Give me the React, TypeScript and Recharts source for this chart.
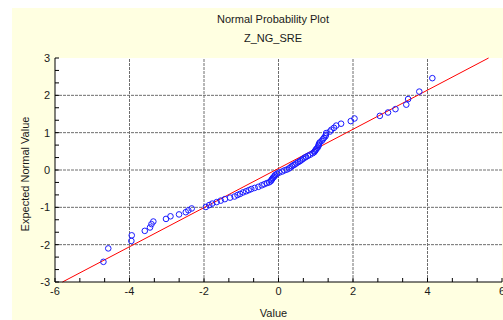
import React from 'react';
import { ScatterChart, Scatter, XAxis, YAxis, ReferenceLine } from 'recharts';

const values = [
  -4.7, -4.57, -3.95, -3.94, -3.59, -3.45, -3.41, -3.36, -3.02, -2.9,
  -2.67, -2.49, -2.42, -2.33, -1.95, -1.86, -1.78, -1.66, -1.55, -1.44,
  -1.3, -1.18, -1.1, -1.03, -0.95, -0.87, -0.8, -0.73, -0.64, -0.54,
  -0.45, -0.38, -0.31, -0.25, -0.21, -0.19, -0.17, -0.15, -0.12, -0.1,
  -0.08, -0.04, 0.02, 0.1, 0.16, 0.22, 0.28, 0.32, 0.36, 0.4,
  0.44, 0.48, 0.53, 0.58, 0.62, 0.66, 0.7, 0.74, 0.79, 0.85,
  0.92, 0.96, 0.98, 1.0, 1.02, 1.05, 1.07, 1.08, 1.09, 1.11,
  1.16, 1.19, 1.22, 1.26, 1.27, 1.28, 1.38, 1.42, 1.49, 1.55,
  1.68, 1.94, 2.04, 2.72, 2.94, 3.14, 3.43, 3.48, 3.78, 4.13,
];
const expected = [
  -2.46, -2.1, -1.9, -1.75, -1.63, -1.54, -1.45, -1.38, -1.31, -1.24,
  -1.19, -1.13, -1.08, -1.03, -0.99, -0.94, -0.9, -0.86, -0.82, -0.78,
  -0.74, -0.71, -0.67, -0.64, -0.6, -0.57, -0.54, -0.51, -0.48, -0.45,
  -0.41, -0.38, -0.35, -0.33, -0.3, -0.27, -0.24, -0.21, -0.18, -0.15,
  -0.13, -0.1, -0.07, -0.04, -0.01, 0.01, 0.04, 0.07, 0.1, 0.13,
  0.15, 0.18, 0.21, 0.24, 0.27, 0.3, 0.33, 0.35, 0.38, 0.41,
  0.45, 0.48, 0.51, 0.54, 0.57, 0.6, 0.64, 0.67, 0.71, 0.74,
  0.78, 0.82, 0.86, 0.9, 0.94, 0.99, 1.03, 1.08, 1.13, 1.19,
  1.24, 1.31, 1.38, 1.45, 1.54, 1.63, 1.75, 1.9, 2.1, 2.46,
];

// fitted normal line end points
const fitLineX = [-5.8, 5.64];
const fitLineY = [-3, 3];

const xTicks = [-6, -5.333, -4.667, -4, -3.333, -2.667, -2, -1.333, -0.667, 0, 0.667, 1.333, 2, 2.667, 3.333, 4, 4.667, 5.333, 6];
const yTicks = [-3, -2.667, -2.333, -2, -1.667, -1.333, -1, -0.667, -0.333, 0, 0.333, 0.667, 1, 1.333, 1.667, 2, 2.333, 2.667, 3];
const xGrid = [-4, -2, 0, 2, 4];
const yGrid = [-2, -1, 0, 1, 2];

const FONT = '"Liberation Sans", Arial, sans-serif';
const TEXT = '#1a1a1a';

const points = values.map((v, i) => ({ x: v, y: expected[i] }));

const labelX = (v: number) => (Number.isInteger(v) && v % 2 === 0 ? String(v) : '');
const labelY = (v: number) => (Number.isInteger(v) ? String(v) : '');

const Ring = (props: any) => (
  <circle cx={props.cx} cy={props.cy} r={2.8} fill="none" stroke="#1a1aff" strokeWidth={1} />
);

const YTitle = (props: any) => {
  const { x, y, height } = props.viewBox;
  const cx = x + 13;
  const cy = y + height / 2 + 4;
  return (
    <text x={cx} y={cy} transform={`rotate(-90 ${cx} ${cy})`} textAnchor="middle"
      dominantBaseline="central" fontSize={11} fill={TEXT} fontFamily={FONT}>
      Expected Normal Value
    </text>
  );
};

const XTitle = (props: any) => {
  const { x, y, width } = props.viewBox;
  return (
    <text x={x + width / 2 - 5} y={y + 31} textAnchor="middle" dominantBaseline="central"
      fontSize={11} fill={TEXT} fontFamily={FONT}>
      Value
    </text>
  );
};

export default function App() {
  const tickStyle = { fill: TEXT, fontSize: 11, fontFamily: FONT };
  return (
    <>
      <style>{'body{margin:0;overflow:hidden}'}</style>
      <div style={{ position: 'relative', marginLeft: 12, marginTop: 8, width: 491, height: 312, background: '#ffffe1', fontFamily: FONT }}>
        <div style={{ position: 'absolute', left: 261, top: 5, transform: 'translateX(-50%)', fontSize: 11, lineHeight: '13px', color: TEXT, whiteSpace: 'nowrap' }}>
          Normal Probability Plot
        </div>
        <div style={{ position: 'absolute', left: 261, top: 24, transform: 'translateX(-50%)', fontSize: 11, lineHeight: '13px', color: TEXT, whiteSpace: 'nowrap' }}>
          Z_NG_SRE
        </div>
        <div style={{ position: 'absolute', left: 0, top: 0 }}>
          <ScatterChart width={491} height={312} margin={{ top: 50, right: 1, bottom: 0, left: 0 }}>
            <rect x={43} y={50} width={447} height={224} fill="#fff" />
            <XAxis xAxisId="top" orientation="top" type="number" domain={[-6, 6]} ticks={xTicks}
              height={0} tick={false} tickSize={-4} axisLine={{ stroke: '#000' }} tickLine={{ stroke: '#000' }} />
            <YAxis yAxisId="right" orientation="right" type="number" domain={[-3, 3]} ticks={yTicks}
              width={0} tick={false} tickSize={-4} axisLine={{ stroke: '#000' }} tickLine={{ stroke: '#000' }} />
            <XAxis dataKey="x" type="number" domain={[-6, 6]} ticks={xTicks} interval={0}
              height={38} tickSize={-4} tickMargin={9} tick={tickStyle} tickFormatter={labelX}
              axisLine={{ stroke: '#000' }} tickLine={{ stroke: '#000' }} label={<XTitle />} />
            <YAxis dataKey="y" type="number" domain={[-3, 3]} ticks={yTicks} interval={0}
              width={43} tickSize={-4} tickMargin={9} tick={tickStyle} tickFormatter={labelY}
              axisLine={{ stroke: '#000' }} tickLine={{ stroke: '#000' }} label={<YTitle />} />
            {xGrid.map((v) => (
              <ReferenceLine key={'gx' + v} x={v} stroke="#6e6e6e" strokeDasharray="3 1" />
            ))}
            {yGrid.map((v) => (
              <ReferenceLine key={'gy' + v} y={v} stroke="#6e6e6e" strokeDasharray="3 1" />
            ))}
            <ReferenceLine
              segment={[{ x: fitLineX[0], y: fitLineY[0] }, { x: fitLineX[1], y: fitLineY[1] }]}
              stroke="#ff0000" strokeWidth={1}
            />
            <Scatter data={points} shape={<Ring />} isAnimationActive={false} />
          </ScatterChart>
        </div>
      </div>
    </>
  );
}
